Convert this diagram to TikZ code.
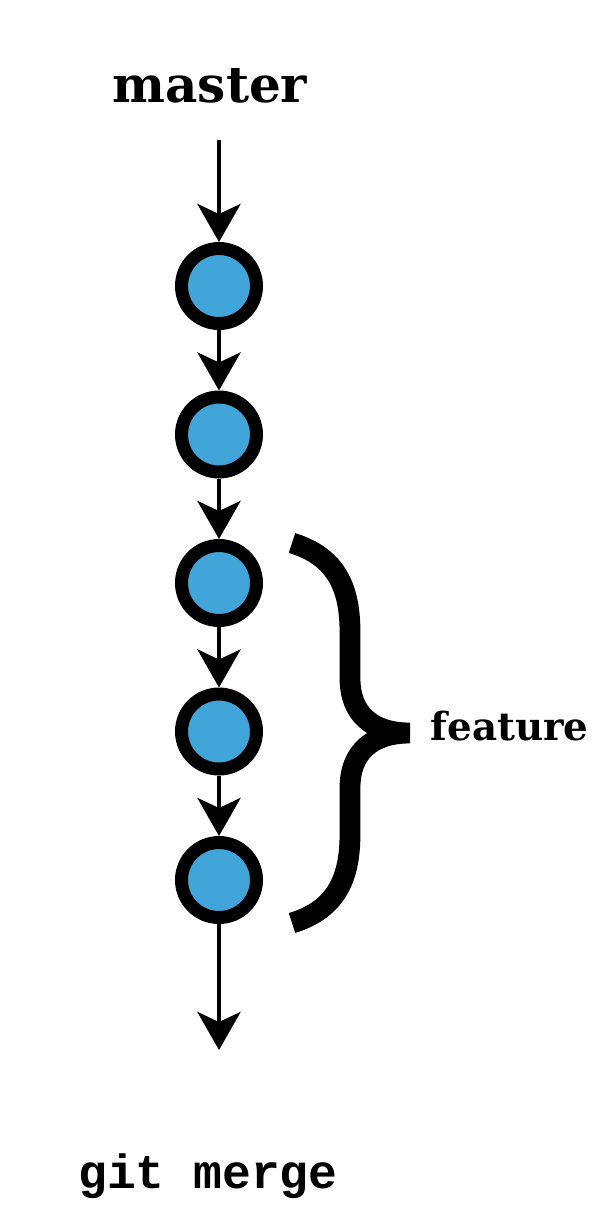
\documentclass[tikz,border=0pt]{standalone}
\usepackage{fontspec}
\setmainfont{DejaVu Serif}
\newfontfamily\codefont{Liberation Mono}
\usetikzlibrary{arrows.meta}
\definecolor{commitblue}{RGB}{66,165,217}

\begin{document}
\begin{tikzpicture}[x=0.25pt,y=-0.25pt,
  commit/.style={circle,draw=black,fill=commitblue,line width=3.25pt,inner sep=0pt,minimum size=18.75pt},
  link/.style={line width=1.1pt,-{Stealth[length=9.5pt,width=10.75pt,inset=2.5pt]}},
  bracket/.style={line width=5.2pt,line join=bevel}]
 \useasboundingbox (0,0) rectangle (594,1214);

 \node[anchor=base] (master) at (210,102) {\fontsize{12.5}{14}\selectfont\bfseries master};
 \coordinate (start) at (219,140);
 \node[commit] (c1) at (219,286) {};
 \node[commit] (c2) at (219,434.5) {};
 \node[commit] (c3) at (219,583) {};
 \node[commit] (c4) at (219,731.5) {};
 \node[commit] (c5) at (219,880) {};
 \coordinate (end) at (219,1050);

 \draw[link] (start) -- (c1);
 \draw[link] (c1) -- (c2);
 \draw[link] (c2) -- (c3);
 \draw[link] (c3) -- (c4);
 \draw[link] (c4) -- (c5);
 \draw[link] (c5) -- (end);

 \draw[bracket] (292,543)
  .. controls (338,557) and (350,590) .. (350,632) -- (350,678)
  .. controls (350,714) and (372,733) .. (410,733)
  .. controls (372,733) and (350,752) .. (350,788) -- (350,834)
  .. controls (350,876) and (338,909) .. (292,923);
 \node[anchor=base west,inner sep=0pt] (feature) at (430,740) {\fontsize{9.7}{12}\selectfont\bfseries feature};

 \node[anchor=base,inner sep=0pt] (merge) at (208,1188) {\codefont\fontsize{12}{14}\selectfont\bfseries git merge};
\end{tikzpicture}
\end{document}
